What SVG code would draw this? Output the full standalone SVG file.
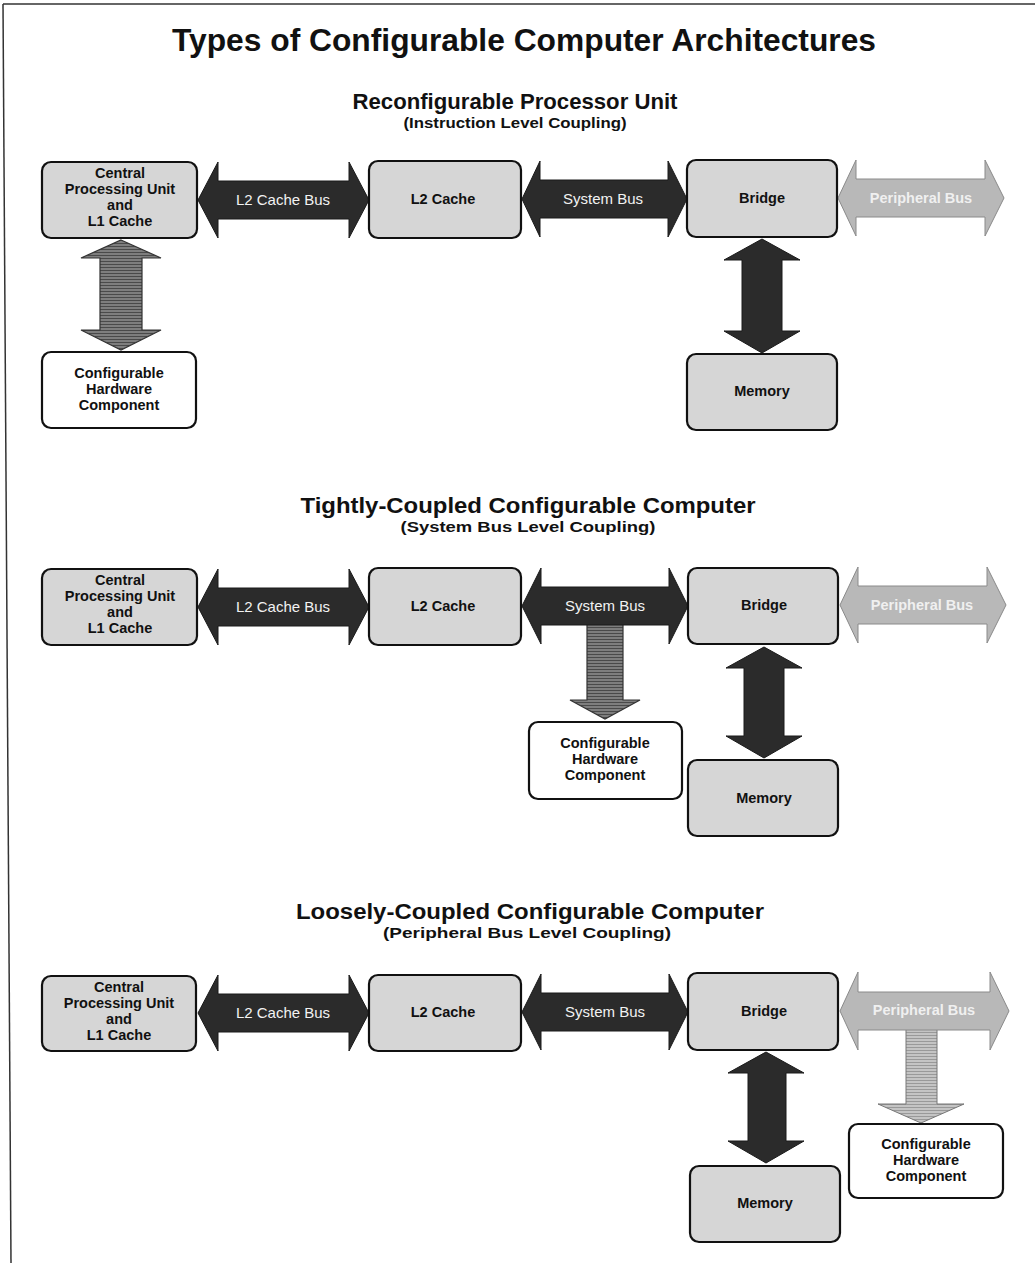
<svg xmlns="http://www.w3.org/2000/svg" width="1035" height="1263" viewBox="0 0 1035 1263">
  <defs>
    <style>
      .title { font-family: "Liberation Sans", Arial, sans-serif; font-weight: bold; fill: #111; text-anchor: middle; }
      .box { fill: #d6d6d6; stroke: #111; stroke-width: 2.2; }
      .hw { fill: #ffffff; stroke: #111; stroke-width: 2.2; }
      .lbl { font-family: "Liberation Sans", Arial, sans-serif; font-weight: bold; font-size: 14.5px; fill: #111; text-anchor: middle; }
      .bus { fill: #2b2b2b; stroke: #1a1a1a; stroke-width: 1; }
      .pbus { fill: #b8b8b8; stroke: #8a8a8a; stroke-width: 1; }
      .buslbl { font-family: "Liberation Sans", Arial, sans-serif; font-size: 15px; fill: #f2f2f2; text-anchor: middle; }
      .pbuslbl { font-family: "Liberation Sans", Arial, sans-serif; font-weight: bold; font-size: 14.5px; fill: #f0f0f0; text-anchor: middle; }
      .link { fill: url(#hatchMid); stroke: #333; stroke-width: 1.2; }
      .linkLight { fill: url(#hatchLight); stroke: #777; stroke-width: 1; }
    </style>
    <pattern id="hatchMid" width="4" height="3" patternUnits="userSpaceOnUse">
      <rect width="4" height="3" fill="#7e7e7e"/>
      <rect width="4" height="1" fill="#4a4a4a"/>
    </pattern>
    <pattern id="hatchLight" width="4" height="3" patternUnits="userSpaceOnUse">
      <rect width="4" height="3" fill="#c4c4c4"/>
      <rect width="4" height="1" fill="#999"/>
    </pattern>
  </defs>

  <rect width="1035" height="1263" fill="#ffffff"/>
  <!-- page frame -->
  <line x1="3" y1="4" x2="1035" y2="4" stroke="#333" stroke-width="1.5"/>
  <line x1="3" y1="4" x2="11" y2="1263" stroke="#333" stroke-width="1.5"/>

  <!-- headings -->
  <text class="title" x="524" y="51" font-size="32" textLength="704" lengthAdjust="spacingAndGlyphs">Types of Configurable Computer Architectures</text>
  <text class="title" x="515" y="109" font-size="22" textLength="325" lengthAdjust="spacingAndGlyphs">Reconfigurable Processor Unit</text>
  <text class="title" x="515" y="128" font-size="14.5" textLength="223" lengthAdjust="spacingAndGlyphs">(Instruction Level Coupling)</text>
  <text class="title" x="528" y="513" font-size="22" textLength="455" lengthAdjust="spacingAndGlyphs">Tightly-Coupled Configurable Computer</text>
  <text class="title" x="528" y="532" font-size="14.5" textLength="255" lengthAdjust="spacingAndGlyphs">(System Bus Level Coupling)</text>
  <text class="title" x="530" y="919" font-size="22" textLength="468" lengthAdjust="spacingAndGlyphs">Loosely-Coupled Configurable Computer</text>
  <text class="title" x="527" y="938" font-size="14.5" textLength="288" lengthAdjust="spacingAndGlyphs">(Peripheral Bus Level Coupling)</text>

  <!-- connectors -->
  <g id="connectors">
    <!-- section 1 -->
    <g id="s1-l2bus">
      <path class="bus" d="M198,200 L218,162 L218,181 L349,181 L349,162 L369,200 L349,238 L349,219 L218,219 L218,238 Z"/>
      <text class="buslbl" x="283" y="205">L2 Cache Bus</text>
    </g>
    <g id="s1-sysbus">
      <path class="bus" d="M522,199 L540,161 L540,180 L668,180 L668,161 L687,199 L668,237 L668,218 L540,218 L540,237 Z"/>
      <text class="buslbl" x="603" y="204">System Bus</text>
    </g>
    <g id="s1-pbus">
      <path class="pbus" d="M838,198 L856,160 L856,179 L985,179 L985,160 L1004,198 L985,236 L985,217 L856,217 L856,236 Z"/>
      <text class="pbuslbl" x="921" y="203">Peripheral Bus</text>
    </g>
    <path id="s1-cpu-hw" class="link" d="M121,240 L161,258 L142,258 L142,330 L161,330 L121,350 L81,330 L100,330 L100,258 L81,258 Z"/>
    <path id="s1-bridge-mem" class="bus" d="M762,239 L800,260 L782,260 L782,331 L800,331 L762,353 L724,331 L742,331 L742,260 L724,260 Z"/>

    <!-- section 2 -->
    <g id="s2-l2bus">
      <path class="bus" d="M198,607 L218,569 L218,588 L349,588 L349,569 L369,607 L349,645 L349,626 L218,626 L218,645 Z"/>
      <text class="buslbl" x="283" y="612">L2 Cache Bus</text>
    </g>
    <path id="s2-bus-hw" class="link" d="M587,624 L623,624 L623,700 L640,700 L605,719 L570,700 L587,700 Z"/>
    <g id="s2-sysbus">
      <path class="bus" d="M522,606 L541,568 L541,587 L669,587 L669,568 L688,606 L669,644 L669,625 L541,625 L541,644 Z"/>
      <text class="buslbl" x="605" y="611">System Bus</text>
    </g>
    <g id="s2-pbus">
      <path class="pbus" d="M840,605 L858,567 L858,586 L987,586 L987,567 L1006,605 L987,643 L987,624 L858,624 L858,643 Z"/>
      <text class="pbuslbl" x="922" y="610">Peripheral Bus</text>
    </g>
    <path id="s2-bridge-mem" class="bus" d="M764,647 L802,668 L784,668 L784,736 L802,736 L764,758 L726,736 L744,736 L744,668 L726,668 Z"/>

    <!-- section 3 -->
    <g id="s3-l2bus">
      <path class="bus" d="M198,1013 L218,975 L218,994 L349,994 L349,975 L369,1013 L349,1051 L349,1032 L218,1032 L218,1051 Z"/>
      <text class="buslbl" x="283" y="1018">L2 Cache Bus</text>
    </g>
    <g id="s3-sysbus">
      <path class="bus" d="M522,1012 L541,974 L541,993 L669,993 L669,974 L688,1012 L669,1050 L669,1031 L541,1031 L541,1050 Z"/>
      <text class="buslbl" x="605" y="1017">System Bus</text>
    </g>
    <path id="s3-bus-hw" class="linkLight" d="M906,1028 L937,1028 L937,1104 L964,1104 L921,1123 L878,1104 L906,1104 Z"/>
    <g id="s3-pbus">
      <path class="pbus" d="M840,1011 L858,972 L858,992 L990,992 L990,972 L1009,1011 L990,1050 L990,1030 L858,1030 L858,1050 Z"/>
      <text class="pbuslbl" x="924" y="1015">Peripheral Bus</text>
    </g>
    <path id="s3-bridge-mem" class="bus" d="M766,1052 L804,1073 L786,1073 L786,1141 L804,1141 L766,1163 L728,1141 L748,1141 L748,1073 L728,1073 Z"/>
  </g>

  <!-- section 1 nodes -->
  <g id="s1-cpu">
    <rect class="box" x="42" y="162" width="155" height="76" rx="9"/>
    <text class="lbl" x="120" y="178">Central</text>
    <text class="lbl" x="120" y="194">Processing Unit</text>
    <text class="lbl" x="120" y="210">and</text>
    <text class="lbl" x="120" y="226">L1 Cache</text>
  </g>
  <g id="s1-l2cache">
    <rect class="box" x="369" y="161" width="152" height="77" rx="9"/>
    <text class="lbl" x="443" y="204">L2 Cache</text>
  </g>
  <g id="s1-bridge">
    <rect class="box" x="687" y="160" width="150" height="77" rx="9"/>
    <text class="lbl" x="762" y="203">Bridge</text>
  </g>
  <g id="s1-hw">
    <rect class="hw" x="42" y="352" width="154" height="76" rx="9"/>
    <text class="lbl" x="119" y="378">Configurable</text>
    <text class="lbl" x="119" y="394">Hardware</text>
    <text class="lbl" x="119" y="410">Component</text>
  </g>
  <g id="s1-memory">
    <rect class="box" x="687" y="354" width="150" height="76" rx="9"/>
    <text class="lbl" x="762" y="396">Memory</text>
  </g>

  <!-- section 2 nodes -->
  <g id="s2-cpu">
    <rect class="box" x="42" y="569" width="155" height="76" rx="9"/>
    <text class="lbl" x="120" y="585">Central</text>
    <text class="lbl" x="120" y="601">Processing Unit</text>
    <text class="lbl" x="120" y="617">and</text>
    <text class="lbl" x="120" y="633">L1 Cache</text>
  </g>
  <g id="s2-l2cache">
    <rect class="box" x="369" y="568" width="152" height="77" rx="9"/>
    <text class="lbl" x="443" y="611">L2 Cache</text>
  </g>
  <g id="s2-bridge">
    <rect class="box" x="688" y="568" width="150" height="76" rx="9"/>
    <text class="lbl" x="764" y="610">Bridge</text>
  </g>
  <g id="s2-hw">
    <rect class="hw" x="529" y="722" width="153" height="77" rx="9"/>
    <text class="lbl" x="605" y="748">Configurable</text>
    <text class="lbl" x="605" y="764">Hardware</text>
    <text class="lbl" x="605" y="780">Component</text>
  </g>
  <g id="s2-memory">
    <rect class="box" x="688" y="760" width="150" height="76" rx="9"/>
    <text class="lbl" x="764" y="803">Memory</text>
  </g>

  <!-- section 3 nodes -->
  <g id="s3-cpu">
    <rect class="box" x="42" y="976" width="154" height="75" rx="9"/>
    <text class="lbl" x="119" y="992">Central</text>
    <text class="lbl" x="119" y="1008">Processing Unit</text>
    <text class="lbl" x="119" y="1024">and</text>
    <text class="lbl" x="119" y="1040">L1 Cache</text>
  </g>
  <g id="s3-l2cache">
    <rect class="box" x="369" y="975" width="152" height="76" rx="9"/>
    <text class="lbl" x="443" y="1017">L2 Cache</text>
  </g>
  <g id="s3-bridge">
    <rect class="box" x="688" y="973" width="150" height="77" rx="9"/>
    <text class="lbl" x="764" y="1016">Bridge</text>
  </g>
  <g id="s3-hw">
    <rect class="hw" x="849" y="1124" width="154" height="74" rx="9"/>
    <text class="lbl" x="926" y="1149">Configurable</text>
    <text class="lbl" x="926" y="1165">Hardware</text>
    <text class="lbl" x="926" y="1181">Component</text>
  </g>
  <g id="s3-memory">
    <rect class="box" x="690" y="1166" width="150" height="76" rx="9"/>
    <text class="lbl" x="765" y="1208">Memory</text>
  </g>
</svg>
